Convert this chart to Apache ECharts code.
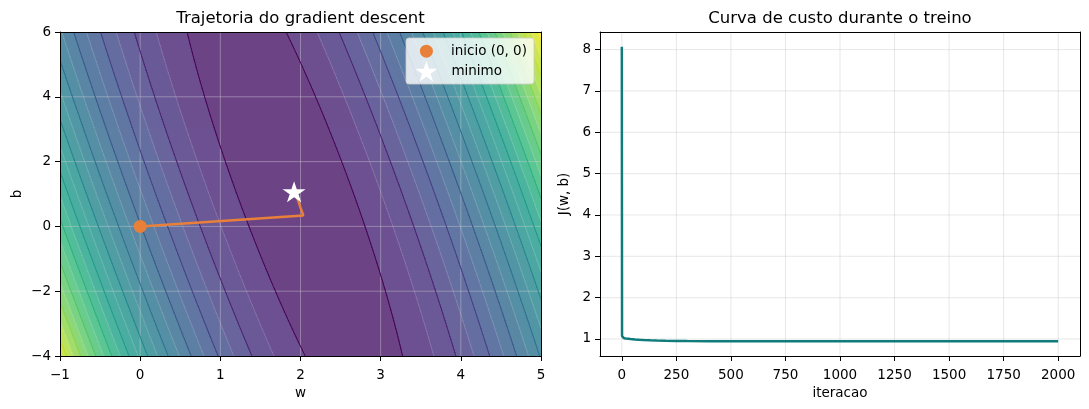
<!DOCTYPE html>
<html>
<head>
<meta charset="utf-8">
<title>Gradient descent</title>
<script src="https://cdn.jsdelivr.net/npm/echarts@6/dist/echarts.min.js"></script>
<style>
  html, body { margin: 0; padding: 0; background: #fff; }
  #chart { width: 1089px; height: 409px; }
</style>
</head>
<body>
<div id="chart"></div>
<script>
// Ticks dos eixos
const wTicks = [-1, 0, 1, 2, 3, 4, 5];
const bTicks = [-4, -2, 0, 2, 4, 6];
const iterTicks = [0, 250, 500, 750, 1000, 1250, 1500, 1750, 2000];
const costTicks = [1, 2, 3, 4, 5, 6, 7, 8];

// Superficie de custo J(w, b): minimo e curvaturas
const wMin = 1.92;
const bMin = 1.10;
const costAtMin = 1.15;
const curvWW = 1.6;
const curvWB = 0.234;
const curvBB = 0.0442;

// Niveis do contourf (preenchido) e do contour (linhas)
const fillLevels = [0, 1, 2, 3, 4, 5, 6, 7, 8, 9, 10, 11, 12, 13, 14, 15, 16, 17, 18, 19, 20, 21, 22, 23, 24, 25];
const lineLevels = [2, 4, 6, 8, 10, 12, 14, 16, 18, 20, 22, 24];

// Trajetoria do gradient descent
const wPath = [0, 2.035, 2.0, 1.968, 1.94, 1.92];
const bPath = [0, 0.34, 0.58, 0.82, 0.99, 1.10];

// Custo por iteracao
const iterations = [0, 1, 2, 3, 5, 10, 20, 40, 60, 80, 100, 130, 160, 200, 250, 300, 400, 500, 750, 1000, 1500, 2000];
const costs = [8.07, 1.07, 1.04, 1.03, 1.025, 1.02, 1.012, 1.0, 0.99, 0.982, 0.975, 0.968, 0.962, 0.956, 0.951, 0.949, 0.947, 0.946, 0.945, 0.945, 0.945, 0.945];

const FONT = 'DejaVu Sans';
const ORANGE = '#e8803a';
const TEAL = '#0f7b7b';
const STAR = 'path://M50,0L61.23,34.55L97.55,34.55L68.17,55.9L79.39,90.45L50,69.1L20.61,90.45L31.83,55.9L2.45,34.55L38.77,34.55Z';

// viridis
const viridisStops = ['#440154', '#471365', '#482475', '#46337f', '#414487', '#3b528b', '#355f8d', '#2f6c8e',
    '#2a788e', '#25848e', '#21918c', '#1e9b8a', '#22a884', '#2fb47c', '#44bf70', '#5ec962', '#7ad151',
    '#a5db36', '#bddf26', '#dfe318', '#fde725'];
const viridisRgb = viridisStops.map(h => [1, 3, 5].map(i => parseInt(h.substr(i, 2), 16)));
function viridis(t, alpha) {
    t = Math.max(0, Math.min(1, t));
    const pos = t * (viridisRgb.length - 1);
    const i = Math.min(Math.floor(pos), viridisRgb.length - 2);
    const f = pos - i;
    const c = viridisRgb[i].map((v, k) => v + (viridisRgb[i + 1][k] - v) * f);
    const a = alpha == null ? 1 : alpha;
    const m = c.map(v => Math.round(v * a + 255 * (1 - a)));
    return 'rgb(' + m.join(',') + ')';
}

function cost(w, b) {
    const dw = w - wMin, db = b - bMin;
    return costAtMin + curvWW * dw * dw + 2 * curvWB * dw * db + curvBB * db * db;
}

const wRange = [wTicks[0], wTicks[wTicks.length - 1]];
const bRange = [bTicks[0], bTicks[bTicks.length - 1]];

// Bandas preenchidas: uma linha de celulas por pixel, agrupadas por banda
const levLo = fillLevels[0], levHi = fillLevels[fillLevels.length - 1];
const bandColors = fillLevels.slice(0, -1).map((l, k) =>
    viridis(((l + fillLevels[k + 1]) / 2 - levLo) / (levHi - levLo), 0.8));
function bandOf(v) {
    for (let k = fillLevels.length - 2; k >= 0; k--) if (v >= fillLevels[k]) return k;
    return 0;
}
const NW = 481, NB = 324;
const dW = (wRange[1] - wRange[0]) / NW, dB = (bRange[1] - bRange[0]) / NB;
const fillRuns = [];
for (let r = 0; r < NB; r++) {
    const b0 = bRange[0] + r * dB, bc = b0 + dB / 2;
    let start = 0, cur = bandOf(cost(wRange[0] + 0.5 * dW, bc));
    for (let c = 1; c <= NW; c++) {
        const k = c < NW ? bandOf(cost(wRange[0] + (c + 0.5) * dW, bc)) : -1;
        if (k !== cur) {
            fillRuns.push([wRange[0] + start * dW, wRange[0] + c * dW, b0, b0 + dB, cur]);
            start = c;
            cur = k;
        }
    }
}

// Linhas de contorno (marching squares)
const MW = 240, MB = 200;
const mW = (wRange[1] - wRange[0]) / MW, mB = (bRange[1] - bRange[0]) / MB;
const node = [];
for (let j = 0; j <= MB; j++) for (let i = 0; i <= MW; i++) node.push(cost(wRange[0] + i * mW, bRange[0] + j * mB));
function isoSegments(L) {
    const segs = [];
    const at = (i, j) => node[j * (MW + 1) + i];
    const P = (i, j) => [wRange[0] + i * mW, bRange[0] + j * mB];
    function cross(p, q, vp, vq) {
        const t = (L - vp) / (vq - vp);
        return [p[0] + (q[0] - p[0]) * t, p[1] + (q[1] - p[1]) * t];
    }
    for (let j = 0; j < MB; j++) {
        for (let i = 0; i < MW; i++) {
            const c = [[i, j], [i + 1, j], [i + 1, j + 1], [i, j + 1]];
            const v = c.map(p => at(p[0], p[1]));
            const pts = [];
            for (let e = 0; e < 4; e++) {
                const a = v[e], b = v[(e + 1) % 4];
                if ((a < L) !== (b < L)) pts.push(cross(P(...c[e]), P(...c[(e + 1) % 4]), a, b));
            }
            if (pts.length >= 2) segs.push([pts[0][0], pts[0][1], pts[1][0], pts[1][1], L]);
            if (pts.length === 4) segs.push([pts[2][0], pts[2][1], pts[3][0], pts[3][1], L]);
        }
    }
    return segs;
}
const lineLo = lineLevels[0], lineHi = lineLevels[lineLevels.length - 1];
const lineSegs = [].concat(...lineLevels.map(isoSegments));
const seamLevels = fillLevels.filter(l => l > lineLo && lineLevels.indexOf(l) < 0);
const seamSegs = [].concat(...seamLevels.map(isoSegments));

// Limites do grafico de custo (margem de 5% como no matplotlib)
const cMin = Math.min(...costs), cMax = Math.max(...costs);
const iMin = Math.min(...iterations), iMax = Math.max(...iterations);
const costAxis = [cMin - 0.05 * (cMax - cMin), cMax + 0.05 * (cMax - cMin)];
const iterAxis = [iMin - 0.05 * (iMax - iMin), iMax + 0.05 * (iMax - iMin)];

const gridLinesLeft = wTicks.slice(1, -1).map(v => [v, bTicks[0], 0])
    .concat(bTicks.slice(1, -1).map(v => [wTicks[0], v, 1]));
const gridLinesRight = iterTicks.map(v => [v, costTicks[0], 0])
    .concat(costTicks.map(v => [iterTicks[0], v, 1]));

const tickFont = { fontFamily: FONT, fontSize: 13.5, color: '#000' };
const minus = v => String(v).replace('-', '\u2212');
const plain = v => String(v);

function gridLineRenderer(color) {
    return function (params, api) {
        const cs = params.coordSys;
        const p = api.coord([api.value(0), api.value(1)]);
        const shape = api.value(2) === 0
            ? { x1: p[0], y1: cs.y, x2: p[0], y2: cs.y + cs.height }
            : { x1: cs.x, y1: p[1], x2: cs.x + cs.width, y2: p[1] };
        return { type: 'line', shape: shape, style: { stroke: color, lineWidth: 1 } };
    };
}
function segmentRenderer(colorOf, width) {
    return function (params, api) {
        const p1 = api.coord([api.value(0), api.value(1)]);
        const p2 = api.coord([api.value(2), api.value(3)]);
        return {
            type: 'line',
            shape: { x1: p1[0], y1: p1[1], x2: p2[0], y2: p2[1] },
            style: { stroke: colorOf(api.value(4)), lineWidth: width, lineCap: 'round' }
        };
    };
}

function mainAxis(gridIndex, pos, range, extra) {
    return Object.assign({
        type: 'value', gridIndex: gridIndex, position: pos, min: range[0], max: range[1], z: 10,
        nameLocation: 'middle', nameTextStyle: { fontFamily: FONT, fontSize: 13.5, color: '#000' },
        axisLine: { show: true, onZero: false, lineStyle: { color: '#000', width: 1 } },
        axisTick: { show: true, inside: false, length: 5, lineStyle: { color: '#000', width: 1 } },
        splitLine: { show: false }
    }, extra);
}
function frameAxis(gridIndex, pos, range) {
    return {
        type: 'value', gridIndex: gridIndex, position: pos, min: range[0], max: range[1], z: 10,
        axisLine: { show: true, onZero: false, lineStyle: { color: '#000', width: 1 } },
        axisTick: { show: false }, axisLabel: { show: false }, splitLine: { show: false }
    };
}
// sem renderizacao progressiva, para desenhar tudo de uma vez
const bigData = { progressive: 0, progressiveThreshold: 1e7 };

const chart = echarts.init(document.getElementById('chart'), null, { renderer: 'canvas' });
chart.setOption({
    animation: false,
    title: [
        { text: 'Trajetoria do gradient descent', left: 300.5, top: 10, padding: 0, textAlign: 'center',
          textStyle: { fontFamily: FONT, fontSize: 16.5, fontWeight: 'normal', color: '#000' } },
        { text: 'Curva de custo durante o treino', left: 840, top: 10, padding: 0, textAlign: 'center',
          textStyle: { fontFamily: FONT, fontSize: 16.5, fontWeight: 'normal', color: '#000' } }
    ],
    grid: [
        { left: 60, top: 32, width: 481, height: 324 },
        { left: 600, top: 32, width: 480, height: 324 }
    ],
    xAxis: [
        mainAxis(0, 'bottom', wRange, { name: 'w', nameGap: 29, interval: 1,
            axisLabel: Object.assign({ margin: 12, formatter: minus }, tickFont) }),
        frameAxis(0, 'top', wRange),
        mainAxis(1, 'bottom', iterAxis, { name: 'iteracao', nameGap: 29,
            axisTick: { show: true, length: 5, customValues: iterTicks, lineStyle: { color: '#000', width: 1 } },
            axisLabel: Object.assign({ margin: 12, customValues: iterTicks, formatter: plain }, tickFont) }),
        frameAxis(1, 'top', iterAxis)
    ],
    yAxis: [
        mainAxis(0, 'left', bRange, { name: 'b', nameGap: 36, interval: 2,
            axisLabel: Object.assign({ margin: 9, formatter: minus }, tickFont) }),
        frameAxis(0, 'right', bRange),
        mainAxis(1, 'left', costAxis, { name: 'J(w, b)', nameGap: 29,
            axisTick: { show: true, length: 5, customValues: costTicks, lineStyle: { color: '#000', width: 1 } },
            axisLabel: Object.assign({ margin: 9, customValues: costTicks, formatter: plain }, tickFont) }),
        frameAxis(1, 'right', costAxis)
    ],
    legend: [
        { data: [{ name: 'inicio (0, 0)', icon: 'circle' }], left: 419.9, top: 44.2, padding: 0,
          itemWidth: 13, itemHeight: 13, selectedMode: false, z: 21,
          textStyle: Object.assign({ padding: [0, 0, 0, 13] }, tickFont) },
        { data: [{ name: 'minimo', icon: STAR }], left: 415.4, top: 60.7, padding: 0,
          itemWidth: 22, itemHeight: 22, selectedMode: false, z: 21,
          textStyle: Object.assign({ padding: [0, 0, 0, 9] }, tickFont) }
    ],
    graphic: [
        { type: 'rect', z: 20, shape: { x: 406, y: 38, width: 128, height: 46, r: 3 },
          style: { fill: 'rgba(255,255,255,0.8)', stroke: 'rgba(204,204,204,0.8)', lineWidth: 1 } }
    ],
    series: [
        Object.assign({
            name: 'custo', type: 'custom', xAxisIndex: 0, yAxisIndex: 0, z: 1, clip: true, silent: true,
            encode: { x: [0, 1], y: [2, 3] },
            data: fillRuns,
            renderItem: function (params, api) {
                const p0 = api.coord([api.value(0), api.value(3)]);
                const p1 = api.coord([api.value(1), api.value(2)]);
                return {
                    type: 'rect',
                    shape: { x: p0[0], y: p0[1], width: p1[0] - p0[0] + 0.6, height: p1[1] - p0[1] + 0.6 },
                    style: { fill: bandColors[api.value(4)] }
                };
            }
        }, bigData),
        Object.assign({
            name: 'bordas', type: 'custom', xAxisIndex: 0, yAxisIndex: 0, z: 1.2, clip: true, silent: true,
            encode: { x: [0, 2], y: [1, 3] },
            data: seamSegs,
            renderItem: segmentRenderer(() => 'rgba(255,255,255,0.2)', 0.6)
        }, bigData),
        {
            name: 'grade', type: 'custom', xAxisIndex: 0, yAxisIndex: 0, z: 1.5, clip: true, silent: true,
            encode: { x: 0, y: 1 },
            data: gridLinesLeft,
            renderItem: gridLineRenderer('rgba(215,215,215,0.4)')
        },
        Object.assign({
            name: 'contorno', type: 'custom', xAxisIndex: 0, yAxisIndex: 0, z: 2, clip: true, silent: true,
            encode: { x: [0, 2], y: [1, 3] },
            data: lineSegs,
            renderItem: segmentRenderer(L => viridis((L - lineLo) / (lineHi - lineLo)), 0.9)
        }, bigData),
        {
            name: 'trajetoria', type: 'line', xAxisIndex: 0, yAxisIndex: 0, z: 3,
            data: wPath.map((w, i) => [w, bPath[i]]),
            showSymbol: false, symbol: 'none',
            lineStyle: { color: ORANGE, width: 2.5 }
        },
        {
            name: 'inicio (0, 0)', type: 'scatter', xAxisIndex: 0, yAxisIndex: 0, z: 4,
            data: [[wPath[0], bPath[0]]],
            symbol: 'circle', symbolSize: 13,
            itemStyle: { color: ORANGE, opacity: 1 }
        },
        {
            name: 'minimo', type: 'scatter', xAxisIndex: 0, yAxisIndex: 0, z: 5,
            data: [[wMin, bMin]],
            symbol: STAR, symbolSize: [23, 22], symbolKeepAspect: true, symbolOffset: [0, 1],
            itemStyle: { color: '#ffffff', opacity: 1 }
        },
        {
            name: 'grade2', type: 'custom', xAxisIndex: 2, yAxisIndex: 2, z: 1, clip: true, silent: true,
            encode: { x: 0, y: 1 },
            data: gridLinesRight,
            renderItem: gridLineRenderer('rgba(176,176,176,0.3)')
        },
        {
            name: 'J', type: 'line', xAxisIndex: 2, yAxisIndex: 2, z: 3,
            data: iterations.map((it, i) => [it, costs[i]]),
            showSymbol: false, symbol: 'none',
            lineStyle: { color: TEAL, width: 2.5 }
        }
    ]
});
</script>
</body>
</html>
